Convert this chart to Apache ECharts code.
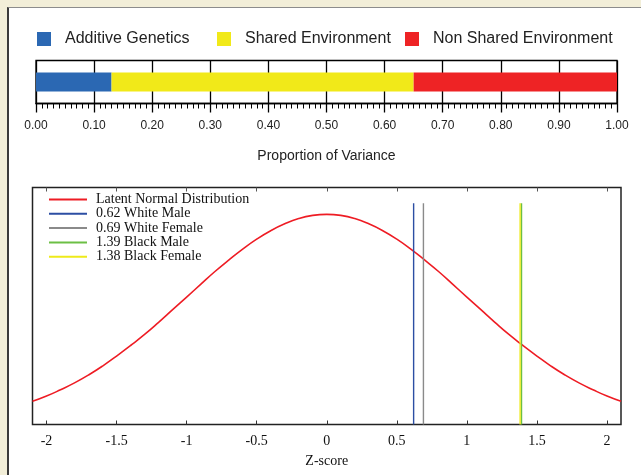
<!DOCTYPE html>
<html>
<head>
<meta charset="utf-8">
<script src="https://cdn.jsdelivr.net/npm/echarts@6/dist/echarts.min.js"></script>
<style>
  html, body { margin:0; padding:0; width:641px; height:475px; overflow:hidden; background:#f2eed8; }
  #panel { position:absolute; left:7px; top:7px; right:0; bottom:0; background:#fff; border-left:2px solid #3a3a3a; border-top:1.5px solid #8c8c8c; }
  #chart { position:absolute; left:0; top:0; width:641px; height:475px; }
</style>
</head>
<body>
<div id="panel"></div>
<div id="chart"></div>
<script>
// ---- Top chart data: proportion of variance ----
const varianceCategory = ['Variance'];
const componentNames = ['Additive Genetics', 'Shared Environment', 'Non Shared Environment'];
const additiveGenetics = [0.13];
const sharedEnvironment = [0.52];
const nonSharedEnvironment = [0.35];
const varianceTickLabels = ['0.00','0.10','0.20','0.30','0.40','0.50','0.60','0.70','0.80','0.90','1.00'];

// ---- Bottom chart data: latent normal distribution ----
const zScoreTicks = [-2, -1.5, -1, -0.5, 0, 0.5, 1, 1.5, 2];
const curveX = [-2.1,-2.0,-1.9,-1.8,-1.7,-1.6,-1.5,-1.4,-1.3,-1.2,-1.1,-1.0,-0.9,-0.8,-0.7,-0.6,-0.5,-0.4,-0.3,-0.2,-0.1,0,
                0.1,0.2,0.3,0.4,0.5,0.6,0.7,0.8,0.9,1.0,1.1,1.2,1.3,1.4,1.5,1.6,1.7,1.8,1.9,2.0,2.1];
const curveY = [0.044,0.054,0.066,0.079,0.094,0.111,0.130,0.150,0.171,0.194,0.218,0.242,0.266,0.290,0.312,0.333,0.352,0.368,0.381,0.391,0.397,0.399,
                0.397,0.391,0.381,0.368,0.352,0.333,0.312,0.290,0.266,0.242,0.218,0.194,0.171,0.150,0.130,0.111,0.094,0.079,0.066,0.054,0.044];
const markerNames = ['0.62 White Male', '0.69 White Female', '1.39 Black Male', '1.38 Black Female'];
const markerZ = [0.62, 0.69, 1.39, 1.38];
const markerTop = [0.42, 0.42, 0.42, 0.42];

const barColors = ['#2b68b3', '#f1e919', '#ee2325'];
const markerColors = ['#2c4ea3', '#8a8a8a', '#6cbf45', '#eeea1a'];
const curveColor = '#ee1c24';

const sans = 'Liberation Sans, Arial, Helvetica, sans-serif';
const serif = 'Liberation Serif, Times New Roman, serif';

const chart = echarts.init(document.getElementById('chart'), null, {renderer:'canvas'});

const topLegendLefts = [37, 217, 405];
const legends = componentNames.map((n, i) => ({
  data: [n], left: topLegendLefts[i], top: 31, icon: 'rect', itemWidth: 14, itemHeight: 14,
  selectedMode: false, padding: 0,
  textStyle: { fontFamily: sans, fontSize: 16, color: '#222', padding: [2,0,0,9] }
}));
legends.push({
  data: ['Latent Normal Distribution'].concat(markerNames),
  orient: 'vertical', left: 49, top: 192.5, icon: 'rect', itemWidth: 38, itemHeight: 2,
  itemGap: 0.3, selectedMode: false, padding: 0,
  textStyle: { fontFamily: serif, fontSize: 14, color: '#111', lineHeight: 14, padding: [0,0,0,4] }
});

const barSeries = [additiveGenetics, sharedEnvironment, nonSharedEnvironment].map((d, i) => ({
  name: componentNames[i], type: 'bar', stack: 'v', xAxisIndex: 0, yAxisIndex: 0,
  barWidth: 19, data: d, itemStyle: { color: barColors[i] }, z: 1
}));

const markerSeries = markerNames.map((n, i) => ({
  name: n, type: 'line', xAxisIndex: 1, yAxisIndex: 1, showSymbol: false, symbol: 'none',
  color: markerColors[i],
  lineStyle: { color: markerColors[i], width: 1.4 },
  data: [[markerZ[i], 0], [markerZ[i], markerTop[i]]],
  z: 3
}));

const option = {
  animation: false,
  backgroundColor: 'transparent',
  legend: legends,
  grid: [
    { left: 36, width: 581, top: 60.5, height: 43, show: true, borderColor: '#000', borderWidth: 1.3, containLabel: false },
    { left: 32.5, width: 588.5, top: 187.5, height: 237, show: true, borderColor: '#222', borderWidth: 1.5, containLabel: false }
  ],
  xAxis: [
    { gridIndex: 0, type: 'value', min: 0, max: 1, interval: 0.1,
      axisLine: { show: true, lineStyle: { color: '#000', width: 1.3 } },
      axisTick: { show: true, length: 9, lineStyle: { color: '#000', width: 1.3 } },
      minorTick: { show: true, splitNumber: 10, length: 5, lineStyle: { color: '#000', width: 1 } },
      splitLine: { show: true, lineStyle: { color: '#000', width: 1.3 } },
      axisLabel: { margin: 16, fontFamily: sans, fontSize: 12, color: '#222',
        formatter: (v) => varianceTickLabels[Math.round(v * 10)] },
      name: 'Proportion of Variance', nameLocation: 'middle', nameGap: 46,
      nameTextStyle: { fontFamily: sans, fontSize: 14, color: '#222' } },
    { gridIndex: 1, type: 'value', min: -2.1, max: 2.1, position: 'bottom',
      axisLine: { show: false },
      axisTick: { show: true, inside: true, length: 4, customValues: zScoreTicks, lineStyle: { color: '#333', width: 1 } },
      axisLabel: { customValues: zScoreTicks, margin: 10, fontFamily: serif, fontSize: 14, color: '#111' },
      splitLine: { show: false },
      name: 'Z-score', nameLocation: 'middle', nameGap: 30,
      nameTextStyle: { fontFamily: serif, fontSize: 14, color: '#111' } },
    { gridIndex: 1, type: 'value', min: -2.1, max: 2.1, position: 'top',
      axisLine: { show: false },
      axisTick: { show: true, inside: true, length: 4, customValues: zScoreTicks, lineStyle: { color: '#555', width: 1 } },
      axisLabel: { show: false }, splitLine: { show: false } }
  ],
  yAxis: [
    { gridIndex: 0, type: 'category', data: varianceCategory,
      axisLine: { show: false }, axisTick: { show: false }, axisLabel: { show: false }, splitLine: { show: false } },
    { gridIndex: 1, type: 'value', min: 0, max: 0.45,
      axisLine: { show: false }, axisTick: { show: false }, axisLabel: { show: false }, splitLine: { show: false } }
  ],
  series: barSeries.concat([
    { name: 'Latent Normal Distribution', type: 'line', xAxisIndex: 1, yAxisIndex: 1,
      smooth: true, showSymbol: false, symbol: 'none', color: curveColor,
      lineStyle: { color: curveColor, width: 1.6 },
      data: curveX.map((x, i) => [x, curveY[i]]), z: 2 }
  ]).concat(markerSeries)
};
chart.setOption(option);
</script>
</body>
</html>
